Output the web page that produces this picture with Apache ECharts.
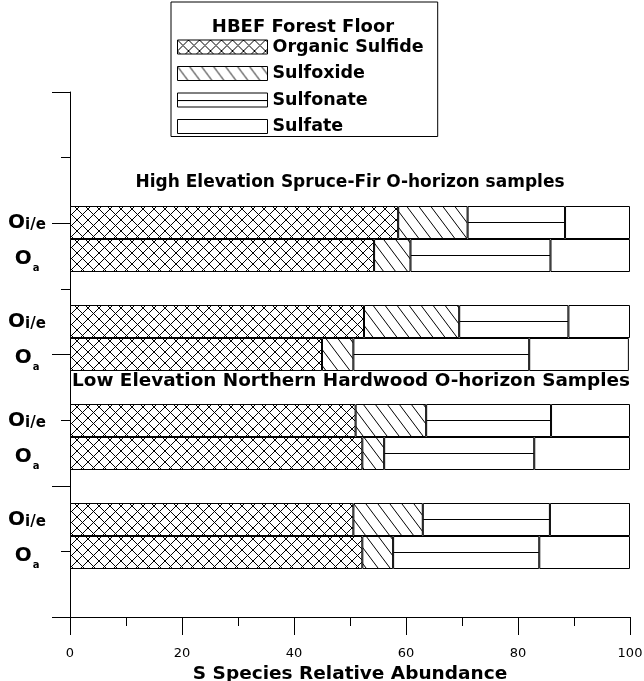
<!DOCTYPE html>
<html lang="en">
<head>
    <meta charset="UTF-8">
    <style>
    html, body { height: 100%; margin: 0; background: #fff; }
    </style>
</head>
<body>
<div id="chart" style="width:644px;height:681px;"></div>
<script src="https://cdn.jsdelivr.net/npm/echarts@6/dist/echarts.min.js"></script>
<script>
    // horizons, top to bottom; empty slots are the gaps between sample groups
    var horizons = ['Oi/e', 'Oa', '', 'Oi/e', 'Oa', '', 'Oi/e', 'Oa', '', 'Oi/e', 'Oa'];
    var speciesNames = ['Organic Sulfide', 'Sulfoxide', 'Sulfonate', 'Sulfate'];
    var organicSulfide = [58.6, 54.3, null, 52.5, 45.0, null, 51.0, 52.2, null, 50.6, 52.2];
    var sulfoxide      = [12.4, 6.5, null, 17.0, 5.6, null, 12.6, 3.9, null, 12.4, 5.5];
    var sulfonate      = [17.4, 25.0, null, 19.5, 31.4, null, 22.3, 26.8, null, 22.7, 26.1];
    var sulfate        = [11.6, 14.2, null, 11.0, 17.8, null, 14.1, 17.1, null, 14.3, 16.2];
    var xTicks = [0, 100, 20];   // min, max, step

    var FONT = '"DejaVu Sans", sans-serif';

    function tile(w, h, draw) {
        var c = document.createElement('canvas');
        c.width = w; c.height = h;
        var g = c.getContext('2d');
        g.fillStyle = '#fff';
        g.fillRect(0, 0, w, h);
        g.strokeStyle = '#000';
        g.fillStyle = '#000';
        g.lineWidth = 1;
        draw(g, w, h);
        return { image: c, repeat: 'repeat' };
    }

    var crossFill = tile(11, 11, function (g, w, h) {
        g.beginPath();
        [-w, 0, w].forEach(function (d) {
            g.moveTo(d - 1, -1); g.lineTo(d + w + 1, h + 1);
            g.moveTo(d + w + 1, -1); g.lineTo(d - 1, h + 1);
        });
        g.stroke();
    });
    var diagFill = tile(12, 16, function (g, w, h) {
        g.beginPath();
        [-w, 0, w].forEach(function (d) {
            g.moveTo(d - w, -h); g.lineTo(d + 2 * w, 2 * h);
        });
        g.stroke();
    });
    var lineFill = tile(16, 33, function (g, w, h) {
        g.fillRect(0, 24, w, 1);
    });
    var lineFillLegend = tile(16, 40, function (g, w, h) {
        g.fillRect(0, 7, w, 1);
    });
    var fills = [crossFill, diagFill, lineFill, '#fff'];
    var values = [organicSulfide, sulfoxide, sulfonate, sulfate];

    var myChart = echarts.init(document.getElementById('chart'));
    myChart.setOption({
        animation: false,
        grid: [
            { left: 70, right: 14, top: 92, bottom: 64, outerBoundsMode: 'none' },
            { left: 70, right: 14, top: 206, height: 363, outerBoundsMode: 'none' }
        ],
        xAxis: [{
            type: 'value', gridIndex: 0,
            min: xTicks[0], max: xTicks[1], interval: xTicks[2],
            axisLine: { lineStyle: { color: '#000', width: 1 } },
            axisTick: { length: 18, lineStyle: { color: '#000' } },
            minorTick: { show: true, splitNumber: 2, length: 9, lineStyle: { color: '#000' } },
            splitLine: { show: false },
            axisLabel: { color: '#000', fontSize: 13, fontFamily: FONT, margin: 30 },
            name: 'S Species Relative Abundance',
            nameLocation: 'middle', nameGap: 45,
            nameTextStyle: { color: '#000', fontSize: 18.5, fontWeight: 'bold', fontFamily: FONT }
        }, {
            type: 'value', gridIndex: 1, min: 0, max: 100, show: false
        }],
        yAxis: [{
            type: 'value', gridIndex: 0, min: 0, max: 8, interval: 2,
            axisLine: { show: true, lineStyle: { color: '#000', width: 1 } },
            axisTick: { show: true, length: 18, lineStyle: { color: '#000' } },
            minorTick: { show: true, splitNumber: 2, length: 9, lineStyle: { color: '#000' } },
            splitLine: { show: false },
            axisLabel: { show: false }
        }, {
            type: 'category', gridIndex: 1, inverse: true, data: horizons,
            axisLine: { show: false }, axisTick: { show: false },
            axisLabel: {
                margin: 43, align: 'center', color: '#000',
                formatter: function (v) {
                    if (!v) return '';
                    var sub = v.slice(1);
                    return sub.length > 1
                        ? '{o1|' + v[0] + '}{s1|' + sub + '}'
                        : '{o2|' + v[0] + '}{s2|' + sub + '}';
                },
                rich: {
                    o1: { fontSize: 20, fontWeight: 'bold', fontFamily: FONT, color: '#000',
                          lineHeight: 20, verticalAlign: 'top', padding: [0, 0, 5, 0] },
                    s1: { fontSize: 15, fontWeight: 'bold', fontFamily: FONT, color: '#000',
                          lineHeight: 15, verticalAlign: 'top', padding: [5, 0, 0, 0] },
                    o2: { fontSize: 20, fontWeight: 'bold', fontFamily: FONT, color: '#000',
                          lineHeight: 20, verticalAlign: 'top', padding: [3, 0, 0, 0] },
                    s2: { fontSize: 10, fontWeight: 'bold', fontFamily: FONT, color: '#000',
                          lineHeight: 10, verticalAlign: 'top', padding: [18, 0, 0, 1] }
                }
            }
        }],
        legend: {
            left: 171, top: 2, orient: 'vertical',
            padding: [36, 14, 1, 6],
            borderColor: '#000', borderWidth: 1,
            itemWidth: 90, itemHeight: 14, itemGap: 8.5,
            icon: 'rect',
            itemStyle: { borderColor: '#000', borderWidth: 1 },
            textStyle: { color: '#000', fontSize: 17.5, fontWeight: 'bold', fontFamily: FONT },
            data: speciesNames.map(function (n, i) {
                return i === 2 ? { name: n, itemStyle: { color: lineFillLegend } } : { name: n };
            })
        },
        graphic: [
            { type: 'text', x: 303, y: 27, silent: true,
              style: { text: 'HBEF Forest Floor', fill: '#000', align: 'center', verticalAlign: 'middle',
                       font: 'bold 18px ' + FONT } },
            { type: 'text', x: 350, y: 183, silent: true,
              style: { text: 'High Elevation Spruce-Fir O-horizon samples', fill: '#000', align: 'center',
                       verticalAlign: 'middle', font: 'bold 17px ' + FONT } },
            { type: 'text', x: 351, y: 381, silent: true,
              style: { text: 'Low Elevation Northern Hardwood O-horizon Samples', fill: '#000', align: 'center',
                       verticalAlign: 'middle', font: 'bold 18.4px ' + FONT } }
        ],
        series: speciesNames.map(function (n, i) {
            return {
                name: n, type: 'bar', stack: 'total',
                xAxisIndex: 1, yAxisIndex: 1,
                barCategoryGap: '0%',
                silent: true,
                itemStyle: { color: fills[i], borderColor: '#000', borderWidth: 1 },
                data: values[i]
            };
        })
    });
</script>
</body>
</html>
